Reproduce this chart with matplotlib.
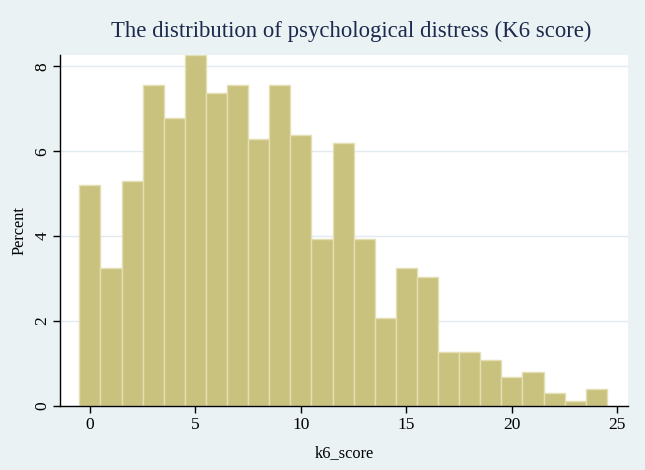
import matplotlib
matplotlib.use("Agg")
import matplotlib.pyplot as plt
import numpy as np

scores = list(range(25))
percent = [5.2, 3.24, 5.31, 7.56, 6.78, 8.26, 7.37, 7.56, 6.29, 7.56, 6.38, 3.93, 6.19,
           3.93, 2.06, 3.24, 3.04, 1.27, 1.27, 1.08, 0.68, 0.79, 0.30, 0.10, 0.39]
xticks = [0, 5, 10, 15, 20, 25]
yticks = [0, 2, 4, 6, 8]

plt.rcParams['font.family'] = ['Liberation Serif', 'DejaVu Serif']

bg = '#EAF2F3'
fig = plt.figure(figsize=(6.45, 4.70), dpi=100, facecolor=bg)
ax = fig.add_axes([0.093, 0.1368, 0.8806, 0.7462])
ax.set_facecolor('white')

ax.bar(scores, percent, width=1.0, align='center', color='#C9C27E',
       edgecolor='#E4DFB3', linewidth=1.0, zorder=2)

ax.set_xlim(-1.42, 25.5)
ax.set_ylim(0, 8.27)
ax.set_xticks(xticks)
ax.set_yticks(yticks)
ax.yaxis.grid(True, color='#E1EAEE', linewidth=1.0, zorder=0)
ax.set_axisbelow(True)

for s in ['top', 'right']:
    ax.spines[s].set_visible(False)
for s in ['left', 'bottom']:
    ax.spines[s].set_color('black')
    ax.spines[s].set_linewidth(1.0)

ax.tick_params(axis='both', direction='out', length=5, width=1.0, labelsize=12.5,
               colors='black', pad=3)
ax.tick_params(axis='y', pad=2)
for lab in ax.get_yticklabels():
    lab.set_rotation(90)
    lab.set_va('center')

ax.set_xlabel('k6_score', fontsize=11.8, labelpad=9)
ax.set_ylabel('Percent', fontsize=11.8, labelpad=5)

fig.text(0.545, 0.934, 'The distribution of psychological distress (K6 score)',
         ha='center', va='center', fontsize=16.4, color='#1B2A4E')

fig.savefig('out.png', dpi=100, facecolor=bg)
